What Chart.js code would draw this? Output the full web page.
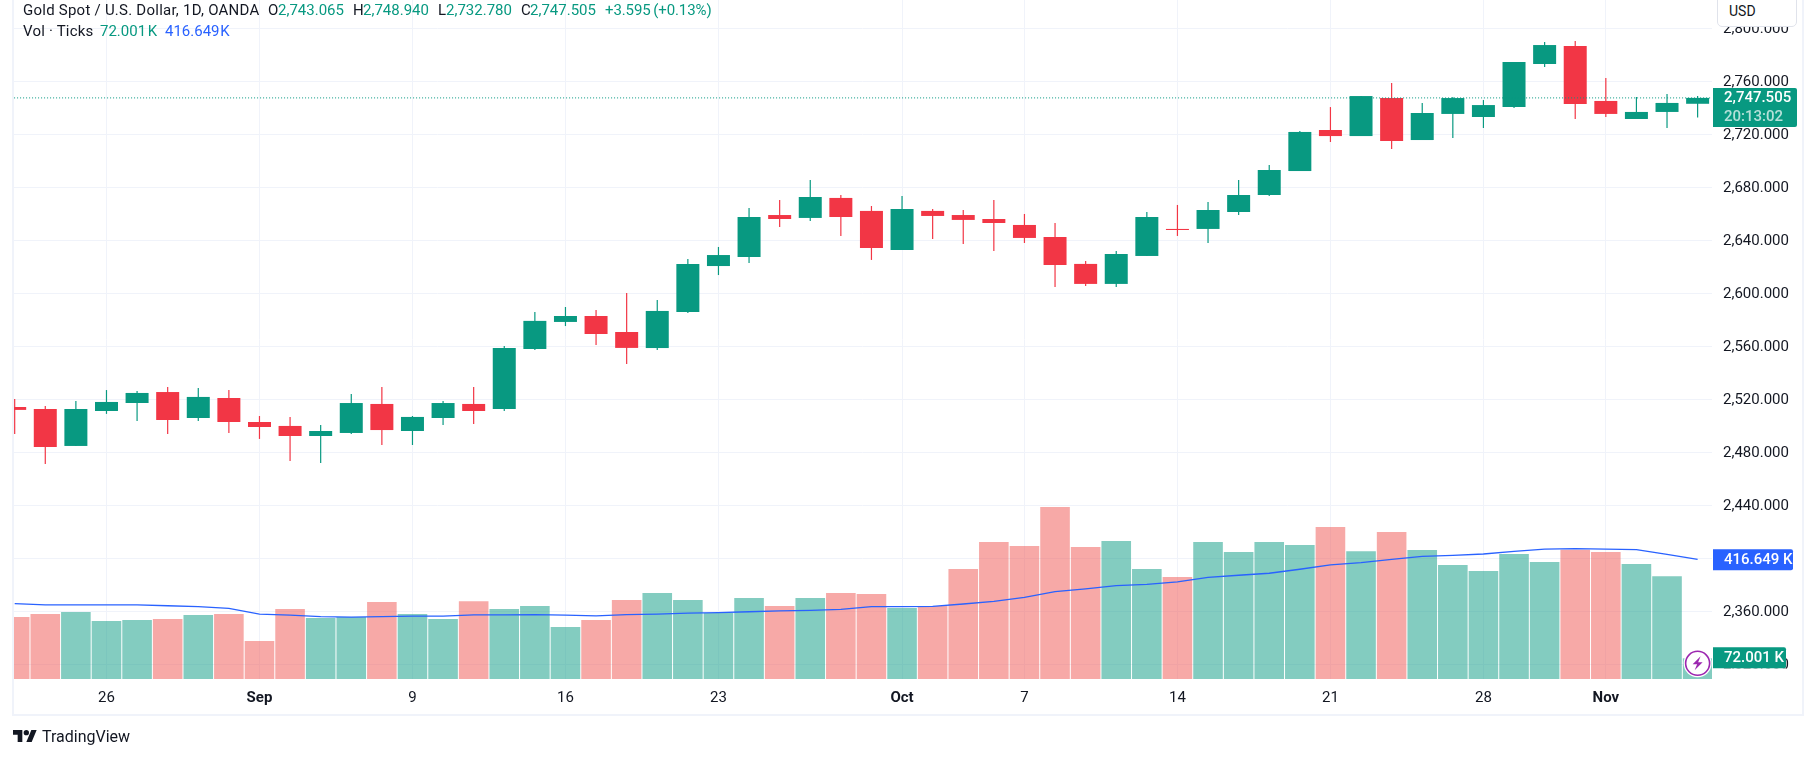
<!DOCTYPE html>
<html>
<head>
<meta charset="utf-8">
<title>Gold Spot / U.S. Dollar</title>
<script src="https://cdn.jsdelivr.net/npm/chart.js@4"></script>
<style>
    html, body { margin: 0; padding: 0; background: #fff; overflow: hidden; }
    body { width: 1815px; height: 758px; position: relative; font-family: Roboto, sans-serif; color: #131722; }
    canvas { position: absolute; left: 0; top: 0; }
    #frame { position: absolute; left: 12px; top: -3px; width: 1788px; height: 715px; border: 2px solid #f0f3fa; }
    .t { position: absolute; font-size: 15px; line-height: 20px; white-space: nowrap; }
    .up { color: #089981; }
    .ma { color: #2962ff; }
    #usd { position: absolute; left: 1717px; top: -6px; width: 78px; height: 31px; background: #fff; border: 1px solid #e0e3eb; border-radius: 5px; }
    #usd span { position: absolute; left: 11px; top: 6px; font-size: 14px; line-height: 20px; }
    #logo { position: absolute; left: 13px; top: 730px; }
</style>
</head>
<body>
<canvas id="goldChart" width="1815" height="758"></canvas>
<div id="frame"></div>
<div id="usd"><span>USD</span></div>

<span class="t" style="left:23px;top:0px;letter-spacing:0.24px">Gold Spot / U.S. Dollar, 1D, OANDA</span>
<span class="t" style="left:268px;top:0px">O</span><span class="t up" style="left:278px;top:0px">2,743.065</span>
<span class="t" style="left:353px;top:0px">H</span><span class="t up" style="left:363px;top:0px">2,748.940</span>
<span class="t" style="left:438px;top:0px">L</span><span class="t up" style="left:446px;top:0px">2,732.780</span>
<span class="t" style="left:521px;top:0px">C</span><span class="t up" style="left:530px;top:0px">2,747.505</span>
<span class="t up" style="left:605px;top:0px;word-spacing:-1px;letter-spacing:-0.1px">+3.595 (+0.13%)</span>
<span class="t" style="left:23px;top:21px;letter-spacing:0.2px">Vol · Ticks</span>
<span class="t up" style="left:100px;top:21px;word-spacing:-2px">72.001 K</span>
<span class="t ma" style="left:165px;top:21px;word-spacing:-3px">416.649 K</span>

<svg id="logo" width="24" height="12" viewBox="0 7 36 18" preserveAspectRatio="none">
    <path fill="#131722" d="M14 25H7V14H0V7h14v18zM28 25h-8l7.5-18h8L28 25z"></path>
    <circle fill="#131722" cx="20" cy="11" r="4"></circle>
</svg>
<span class="t" style="left:42px;top:727px;font-size:16px">TradingView</span>

<script>
var days = ['Aug 21', 'Aug 22', 'Aug 23', 'Aug 26', 'Aug 27', 'Aug 28', 'Aug 29', 'Aug 30',
    'Sep 2', 'Sep 3', 'Sep 4', 'Sep 5', 'Sep 6', 'Sep 9', 'Sep 10', 'Sep 11', 'Sep 12', 'Sep 13',
    'Sep 16', 'Sep 17', 'Sep 18', 'Sep 19', 'Sep 20', 'Sep 23', 'Sep 24', 'Sep 25', 'Sep 26', 'Sep 27',
    'Sep 30', 'Oct 1', 'Oct 2', 'Oct 3', 'Oct 4', 'Oct 7', 'Oct 8', 'Oct 9', 'Oct 10', 'Oct 11',
    'Oct 14', 'Oct 15', 'Oct 16', 'Oct 17', 'Oct 18', 'Oct 21', 'Oct 22', 'Oct 23', 'Oct 24', 'Oct 25',
    'Oct 28', 'Oct 29', 'Oct 30', 'Oct 31', 'Nov 1', 'Nov 4', 'Nov 5', 'Nov 6'];

var openPrice = [2514.2, 2512.7, 2484.8, 2511.2, 2517.2, 2525.5, 2505.9, 2521.0,
    2502.9, 2499.9, 2492.3, 2494.6, 2516.5, 2496.1, 2505.9, 2516.5, 2512.7, 2558.0,
    2578.4, 2582.9, 2570.8, 2558.7, 2585.9, 2620.6, 2627.4, 2659.1, 2656.9, 2672.0,
    2662.2, 2632.7, 2662.2, 2659.1, 2656.1, 2651.6, 2642.5, 2622.2, 2607.1, 2628.2,
    2648.6, 2648.6, 2661.4, 2674.2, 2692.3, 2723.3, 2718.7, 2747.4, 2715.7, 2735.4,
    2733.1, 2740.6, 2773.1, 2786.7, 2745.2, 2731.6, 2736.9, 2743.065];

var highPrice = [2520.2, 2515.0, 2518.7, 2527.0, 2526.3, 2529.3, 2528.5, 2527.0,
    2507.4, 2506.7, 2500.6, 2524.0, 2529.3, 2507.4, 2518.7, 2529.3, 2560.3, 2585.9,
    2589.7, 2587.4, 2600.2, 2595.0, 2625.9, 2635.0, 2664.4, 2670.4, 2685.6, 2674.2,
    2665.9, 2673.5, 2663.7, 2662.9, 2670.4, 2659.9, 2653.1, 2624.4, 2632.0, 2661.4,
    2666.7, 2669.0, 2685.6, 2696.9, 2722.5, 2740.6, 2748.9, 2758.8, 2743.7, 2748.2,
    2745.9, 2774.6, 2789.7, 2790.5, 2762.5, 2748.2, 2750.4, 2748.94];

var lowPrice = [2493.8, 2471.2, 2484.8, 2509.0, 2503.6, 2493.8, 2503.6, 2494.6,
    2490.1, 2473.4, 2471.9, 2493.8, 2485.5, 2485.5, 2500.6, 2501.4, 2511.2, 2557.2,
    2575.3, 2561.0, 2546.7, 2557.2, 2585.2, 2613.8, 2622.9, 2650.1, 2654.6, 2643.3,
    2625.2, 2632.7, 2641.0, 2637.2, 2632.0, 2638.0, 2604.8, 2605.5, 2604.8, 2628.2,
    2643.3, 2638.0, 2659.1, 2673.5, 2692.3, 2714.2, 2718.7, 2708.9, 2715.7, 2717.2,
    2724.8, 2739.9, 2770.8, 2731.6, 2733.1, 2731.6, 2724.8, 2732.78];

var closePrice = [2512.0, 2484.0, 2512.7, 2518.0, 2524.8, 2504.4, 2521.8, 2502.9,
    2499.1, 2492.3, 2496.1, 2517.2, 2496.8, 2506.7, 2517.2, 2511.2, 2558.8, 2579.2,
    2582.9, 2569.3, 2558.8, 2586.7, 2622.2, 2628.9, 2657.6, 2656.1, 2672.7, 2657.6,
    2634.2, 2663.7, 2658.4, 2655.4, 2653.1, 2641.8, 2621.4, 2607.1, 2629.7, 2657.6,
    2647.8, 2662.9, 2674.2, 2693.1, 2721.8, 2718.7, 2748.9, 2715.0, 2736.1, 2747.4,
    2742.1, 2774.6, 2787.4, 2742.9, 2735.4, 2736.9, 2743.7, 2747.505];

// thousands of ticks
var volume = [216, 226, 233, 202, 205, 209, 223, 226,
    132, 244, 212, 216, 268, 226, 209, 271, 244, 254,
    181, 205, 275, 299, 275, 230, 282, 254, 282, 299,
    296, 247, 254, 383, 477, 463, 599, 459, 480, 383,
    355, 477, 442, 477, 466, 529, 445, 512, 449, 397,
    376, 435, 407, 450, 442, 400, 358, 72.001];

var volumeMA = [262, 258, 258, 258, 258, 255, 252, 246,
    226, 222, 217, 215, 217, 219, 219, 223, 223, 224,
    222, 220, 224, 226, 229, 231, 234, 237, 239, 242,
    252, 252, 253, 261, 270, 284, 304, 314, 325, 329,
    338, 354, 361, 368, 382, 397, 405, 416, 427, 430,
    435, 444, 452, 454, 452, 450, 434, 416.649];

var priceTicks = [2320, 2360, 2400, 2440, 2480, 2520, 2560, 2600, 2640, 2680, 2720, 2760, 2800];
var tickDays = ['Aug 26', 'Sep 2', 'Sep 9', 'Sep 16', 'Sep 23', 'Oct 1', 'Oct 7', 'Oct 14', 'Oct 21', 'Oct 28', 'Nov 1'];
var tickLabels = ['26', 'Sep', '9', '16', '23', 'Oct', '7', '14', '21', '28', 'Nov'];
var boldLabels = ['Sep', 'Oct', 'Nov'];

var lastPrice = closePrice[closePrice.length - 1];
var lastIndex = days.length - 1;

var GREEN = '#089981';
var RED = '#f23645';
var GREEN_VOL = 'rgba(8,153,129,0.5)';
var RED_VOL = 'rgba(239,83,80,0.5)';
var BLUE = '#2962ff';

function isUp(i) {
    return closePrice[i] >= openPrice[i];
}

var candleColors = days.map(function (d, i) { return isUp(i) ? GREEN : RED; });
var volumeColors = days.map(function (d, i) { return isUp(i) ? GREEN_VOL : RED_VOL; });

function tag(ctx, x, y, w, h, color) {
    ctx.fillStyle = color;
    ctx.beginPath();
    ctx.roundRect(x, y, w, h, [0, 2, 2, 0]);
    ctx.fill();
}

function noPadding(axis) {
    axis.paddingLeft = 0;
    axis.paddingRight = 0;
    axis.paddingTop = 0;
    axis.paddingBottom = 0;
}

// price and volume labels sitting on the right axis, and the lightning mark
var axisTags = {
    id: 'axisTags',
    afterDraw: function (chart) {
        var ctx = chart.ctx;
        var right = chart.chartArea.right + 1;
        var py = chart.scales.y.getPixelForValue(lastPrice);
        var my = chart.scales.y1.getPixelForValue(volumeMA[lastIndex]);
        var vy = chart.scales.y1.getPixelForValue(volume[lastIndex]);
        var ix = chart.scales.x.getPixelForValue(lastIndex);

        ctx.save();
        // lightning
        ctx.beginPath();
        ctx.arc(ix, vy + 5, 14, 0, Math.PI * 2);
        ctx.fillStyle = '#fff';
        ctx.fill();
        ctx.beginPath();
        ctx.arc(ix, vy + 5, 12, 0, Math.PI * 2);
        ctx.lineWidth = 1.6;
        ctx.strokeStyle = '#9c27b0';
        ctx.stroke();
        ctx.beginPath();
        ctx.moveTo(ix + 3, vy - 2);
        ctx.lineTo(ix - 5, vy + 6);
        ctx.lineTo(ix - 0.5, vy + 6);
        ctx.lineTo(ix - 3, vy + 12);
        ctx.lineTo(ix + 5, vy + 4);
        ctx.lineTo(ix + 0.5, vy + 4);
        ctx.closePath();
        ctx.fillStyle = '#9c27b0';
        ctx.fill();

        // the 2,320 axis label hides behind the volume tag
        ctx.fillStyle = '#fff';
        ctx.fillRect(right, vy + 10, 73, 5);

        tag(ctx, right, py - 10, 84, 39, GREEN);
        tag(ctx, right, my - 10, 80, 21, BLUE);
        tag(ctx, right, vy - 11, 73, 21, GREEN);

        ctx.textBaseline = 'middle';
        ctx.textAlign = 'left';
        ctx.font = '500 15px Roboto, sans-serif';
        ctx.fillStyle = '#fff';
        ctx.fillText('2,747.505', right + 11, py);
        ctx.fillText('416.649 K', right + 11, my + 1);
        ctx.fillText('72.001 K', right + 11, vy);
        ctx.fillStyle = 'rgba(255,255,255,0.7)';
        ctx.fillText('20:13:02', right + 11, py + 19);
        ctx.restore();
    }
};

var config = {
    type: 'bar',
    data: {
        datasets: [{
            type: 'line',
            label: 'Last',
            data: [{ x: -1, y: lastPrice }, { x: days.length, y: lastPrice }],
            xAxisID: 'x',
            yAxisID: 'y',
            borderColor: GREEN,
            borderWidth: 1,
            borderDash: [1, 2],
            pointRadius: 0,
            order: 1
        }, {
            label: 'Body',
            data: days.map(function (d, i) { return { x: i, y: [openPrice[i], closePrice[i]] }; }),
            yAxisID: 'y',
            backgroundColor: candleColors,
            barThickness: 23,
            order: 2
        }, {
            label: 'Wick',
            data: days.map(function (d, i) { return { x: i, y: [lowPrice[i], highPrice[i]] }; }),
            yAxisID: 'y',
            backgroundColor: candleColors,
            barThickness: 1.2,
            order: 3
        }, {
            type: 'line',
            label: 'Volume MA',
            data: days.map(function (d, i) { return { x: i, y: volumeMA[i] }; }),
            yAxisID: 'y1',
            borderColor: BLUE,
            borderWidth: 1.3,
            pointRadius: 0,
            order: 4
        }, {
            label: 'Volume',
            data: days.map(function (d, i) { return { x: i, y: volume[i] }; }),
            yAxisID: 'y1',
            backgroundColor: volumeColors,
            barThickness: 29.6,
            order: 5
        }]
    },
    options: {
        responsive: false,
        animation: false,
        devicePixelRatio: 1,
        layout: { padding: { left: 13, right: 13, top: 0, bottom: 44 } },
        datasets: { bar: { grouped: false, inflateAmount: 0 } },
        plugins: { legend: { display: false }, tooltip: { enabled: false } },
        scales: {
            x: {
                type: 'linear',
                offset: false,
                min: -0.055,
                max: 55.47,
                grid: { color: '#f0f3fa', drawTicks: false, offset: false },
                border: { display: false },
                afterBuildTicks: function (axis) {
                    axis.ticks = tickDays.map(function (d) { return { value: days.indexOf(d) }; });
                },
                afterFit: function (axis) { axis.height = 35; noPadding(axis); },
                ticks: {
                    autoSkip: false,
                    maxRotation: 0,
                    padding: 10,
                    color: '#131722',
                    font: function (ctx) {
                        var label = tickLabels[tickDays.indexOf(days[ctx.tick ? ctx.tick.value : 0])];
                        return { family: 'Roboto, sans-serif', size: 15, weight: boldLabels.indexOf(label) >= 0 ? 'bold' : 'normal' };
                    },
                    callback: function (value) { return tickLabels[tickDays.indexOf(days[value])]; }
                }
            },
            y: {
                position: 'right',
                min: 2308.9,
                max: 2821.4,
                grid: { color: '#f0f3fa', drawTicks: false },
                border: { display: false },
                afterBuildTicks: function (axis) {
                    axis.ticks = priceTicks.map(function (v) { return { value: v }; });
                },
                afterFit: function (axis) { axis.width = 90; noPadding(axis); },
                ticks: {
                    padding: 11,
                    labelOffset: 1,
                    color: '#131722',
                    font: { family: 'Roboto, sans-serif', size: 15 },
                    callback: function (value) {
                        return value.toLocaleString('en-US', { minimumFractionDigits: 3 });
                    }
                }
            },
            y1: {
                display: false,
                min: 0,
                max: 2363,
                grid: { display: false }
            }
        }
    },
    plugins: [axisTags]
};

window.onload = function () {
    new Chart(document.getElementById('goldChart'), config);
};
</script>
</body>
</html>
